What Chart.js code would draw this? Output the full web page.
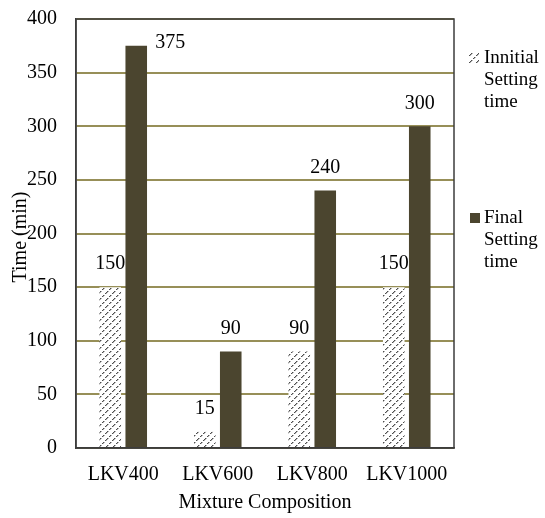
<!DOCTYPE html>
<html>
<head>
<meta charset="utf-8">
<script src="https://cdn.jsdelivr.net/npm/chart.js@4/dist/chart.umd.min.js"></script>
<style>
html,body{margin:0;padding:0;background:#fff;}
#wrap{width:545px;height:518px;position:relative;}
</style>
</head>
<body>
<div id="wrap"><canvas id="c" width="545" height="518"></canvas></div>
<script>
const categories = ['LKV400', 'LKV600', 'LKV800', 'LKV1000'];
const initialSetting = [150, 15, 90, 150];
const finalSetting = [375, 90, 240, 300];
const seriesNames = [['Innitial', 'Setting', 'time'], ['Final', 'Setting', 'time']];
const yMin = 0, yMax = 400, yStep = 50;
const xTitle = 'Mixture Composition';
const yTitle = 'Time (min)';

const FONT = '"Liberation Serif", "Times New Roman", serif';
const DARK = '#4b452f';
const GRID = '#978f58';

function makeHatch() {
  const n = 7;
  const t = document.createElement('canvas');
  t.width = n; t.height = n;
  const g = t.getContext('2d');
  g.fillStyle = '#ffffff';
  g.fillRect(0, 0, n, n);
  const on = [1, 1, 1, 0, 1, 1, 0];
  for (let i = 0; i < n; i++) {
    if (!on[i]) continue;
    g.fillStyle = '#4e4e4e';
    g.fillRect(i, n - 1 - i, 1, 1);
    g.fillStyle = '#b4b4b4';
    g.fillRect((i + 1) % n, n - 1 - i, 1, 1);
  }
  return g.createPattern(t, 'repeat');
}
const hatch = makeHatch();

const labelPlugin = {
  id: 'valueLabels',
  afterDatasetsDraw(chart) {
    const ctx = chart.ctx;
    const area = chart.chartArea;
    ctx.save();
    ctx.font = '20px ' + FONT;
    ctx.fillStyle = '#000';
    ctx.textAlign = 'center';
    ctx.textBaseline = 'middle';
    chart.data.datasets.forEach((ds, di) => {
      const meta = chart.getDatasetMeta(di);
      meta.data.forEach((bar, i) => {
        let x = bar.x, y = bar.y - 23;
        if (y - 12 < area.top) { x = bar.x + 34; y = bar.y - 3; }
        ctx.fillText(String(ds.data[i]), x, y);
      });
    });
    ctx.restore();
  }
};

const framePlugin = {
  id: 'frame',
  afterDatasetsDraw(chart) {
    const ctx = chart.ctx;
    const a = chart.chartArea;
    ctx.save();
    ctx.strokeStyle = '#3c3c3c';
    ctx.lineWidth = 1.5;
    ctx.strokeRect(a.left, a.top, a.right - a.left, a.bottom - a.top);
    ctx.restore();
  }
};

const extrasPlugin = {
  id: 'extras',
  afterDraw(chart) {
    const ctx = chart.ctx;
    ctx.save();
    ctx.font = '20px ' + FONT;
    ctx.fillStyle = '#000';
    ctx.translate(21, 237);
    ctx.rotate(-Math.PI / 2);
    ctx.textAlign = 'center';
    ctx.textBaseline = 'middle';
    ctx.fillText(yTitle, 0, 0);
    ctx.restore();

    ctx.save();
    ctx.font = '19px ' + FONT;
    ctx.fillStyle = '#000';
    ctx.textAlign = 'left';
    ctx.textBaseline = 'middle';
    const tx = 484;
    const starts = [58, 218];
    seriesNames.forEach((lines, si) => {
      lines.forEach((ln, li) => ctx.fillText(ln, tx, starts[si] + li * 22));
      if (si === 0) {
        ctx.fillStyle = hatch;
        ctx.fillRect(469, starts[si] - 5, 10, 10);
      } else {
        ctx.fillStyle = DARK;
        ctx.fillRect(470, starts[si] - 5, 10, 10);
      }
      ctx.fillStyle = '#000';
    });
    ctx.restore();
  }
};

new Chart(document.getElementById('c'), {
  type: 'bar',
  data: {
    labels: categories,
    datasets: [
      { label: seriesNames[0].join(' '), data: initialSetting, backgroundColor: hatch, borderWidth: 0 },
      { label: seriesNames[1].join(' '), data: finalSetting, backgroundColor: DARK, borderWidth: 0 }
    ]
  },
  options: {
    responsive: false,
    animation: false,
    devicePixelRatio: 1,
    layout: { padding: { top: 19, right: 91, left: 0, bottom: 0 } },
    datasets: { bar: { categoryPercentage: 0.55, barPercentage: 0.83 } },
    plugins: { legend: { display: false }, tooltip: { enabled: false } },
    scales: {
      x: {
        grid: { display: false, drawTicks: false },
        border: { display: true, color: '#3c3c3c', width: 1.5 },
        ticks: { font: { family: FONT, size: 20 }, color: '#000', padding: 15 },
        title: { display: true, text: xTitle, font: { family: FONT, size: 20 }, color: '#000', padding: { top: 0, bottom: 3 } },
        afterFit(s) { s.height = 70; s.paddingLeft = 0; s.paddingRight = 0; }
      },
      y: {
        min: yMin, max: yMax,
        ticks: { stepSize: yStep, font: { family: FONT, size: 20 }, color: '#000', padding: 19 },
        grid: { drawTicks: false, color: GRID, lineWidth: 2 },
        border: { display: true, color: '#3c3c3c', width: 1.5 },
        afterFit(s) { s.width = 76; s.paddingTop = 0; s.paddingBottom = 0; }
      }
    }
  },
  plugins: [labelPlugin, framePlugin, extrasPlugin]
});
</script>
</body>
</html>
